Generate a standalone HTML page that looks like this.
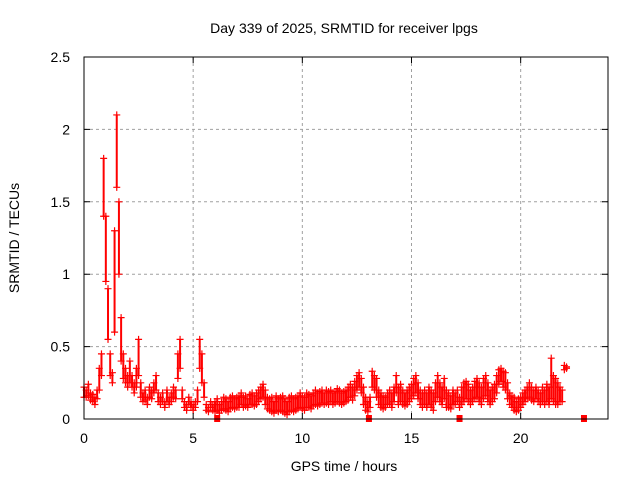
<!DOCTYPE html>
<html><head><meta charset="utf-8"><style>
body{margin:0;background:#fff}
svg{display:block;font-family:"Liberation Sans",sans-serif;font-size:14px}
</style></head><body>
<svg id="chart" width="640" height="480">
<text x="344" y="33" text-anchor="middle">Day 339 of 2025, SRMTID for receiver lpgs</text>
<text x="344" y="471" text-anchor="middle">GPS time / hours</text>
<text transform="translate(19,238) rotate(-90)" text-anchor="middle">SRMTID / TECUs</text>
<g id="grid"></g>
<g id="marks"></g>
<rect x="84" y="57" width="524" height="362" fill="none" stroke="#000"/>
<g id="ticks"></g>
</svg>
<script>
const xTicks=[0,5,10,15,20];
const yTicks=[0,0.5,1,1.5,2,2.5];
const yTickLabels=["0","0.5","1","1.5","2","2.5"];
const t0=0, step=0.1;
const hiVals=[0.22,0.20,0.24,0.18,0.17,0.15,0.20,0.35,0.45,1.80,1.40,0.90,0.45,0.32,1.30,2.10,1.50,0.70,0.45,0.35,0.30,0.40,0.30,0.25,0.35,0.55,0.25,0.18,0.20,0.15,0.22,0.20,0.25,0.30,0.18,0.15,0.18,0.12,0.20,0.15,0.18,0.22,0.20,0.45,0.55,0.20,0.12,0.10,0.15,0.12,0.10,0.12,0.20,0.55,0.45,0.25,0.10,0.08,0.12,0.10,
0.12,0.14,0.10,0.12,0.15,0.14,0.12,0.15,0.16,0.14,
0.15,0.16,0.18,0.15,0.16,0.14,0.17,0.18,0.16,0.18,
0.20,0.22,0.24,0.20,0.15,0.14,0.15,0.12,0.16,0.14,
0.15,0.16,0.14,0.12,0.15,0.16,0.14,0.15,0.16,0.18,
0.16,0.15,0.18,0.17,0.16,0.18,0.20,0.18,0.19,0.20,
0.18,0.20,0.19,0.20,0.18,0.19,0.21,0.20,0.18,0.19,
0.20,0.22,0.24,0.22,0.26,0.30,0.32,0.28,0.22,0.15,
0.12,0.15,0.33,0.30,0.28,0.20,0.18,0.16,0.15,0.18,
0.20,0.18,0.22,0.30,0.22,0.24,0.20,0.18,0.20,0.22,
0.24,0.28,0.30,0.25,0.20,0.18,0.20,0.18,0.22,0.20,
0.18,0.25,0.30,0.25,0.22,0.28,0.20,0.18,0.16,0.20,
0.18,0.20,0.15,0.22,0.25,0.26,0.24,0.20,0.22,0.26,
0.28,0.25,0.22,0.28,0.30,0.25,0.20,0.22,0.24,0.30,
0.34,0.35,0.33,0.32,0.25,0.18,0.16,0.15,0.12,0.14,
0.15,0.18,0.20,0.22,0.25,0.22,0.20,0.22,0.20,0.18,
0.22,0.20,0.24,0.22,0.42,0.30,0.28,0.25,0.22,0.20,
0.37,0.36];
const loVals=[0.15,0.15,0.16,0.13,0.12,0.10,0.14,0.20,0.30,1.40,0.95,0.55,0.30,0.25,0.60,1.60,1.00,0.40,0.28,0.25,0.22,0.25,0.22,0.18,0.22,0.30,0.15,0.12,0.13,0.10,0.15,0.14,0.18,0.20,0.12,0.10,0.12,0.08,0.12,0.10,0.12,0.15,0.14,0.28,0.35,0.14,0.08,0.06,0.10,0.08,0.06,0.08,0.12,0.35,0.25,0.15,0.06,0.05,0.08,0.06,
0.05,0.06,0.04,0.06,0.07,0.06,0.05,0.07,0.08,0.07,
0.08,0.08,0.10,0.08,0.09,0.08,0.10,0.10,0.09,0.10,
0.12,0.14,0.15,0.10,0.07,0.06,0.05,0.04,0.06,0.05,
0.06,0.05,0.04,0.03,0.05,0.06,0.05,0.06,0.07,0.08,
0.07,0.06,0.08,0.08,0.07,0.09,0.10,0.09,0.10,0.11,
0.10,0.11,0.10,0.12,0.10,0.11,0.12,0.11,0.10,0.11,
0.12,0.13,0.15,0.13,0.16,0.20,0.22,0.18,0.10,0.06,
0.05,0.08,0.22,0.20,0.15,0.10,0.08,0.07,0.08,0.10,
0.10,0.08,0.12,0.18,0.10,0.12,0.10,0.09,0.10,0.12,
0.14,0.16,0.18,0.14,0.10,0.08,0.10,0.08,0.10,0.08,
0.06,0.12,0.15,0.12,0.10,0.14,0.08,0.08,0.07,0.10,
0.10,0.12,0.08,0.10,0.12,0.14,0.12,0.10,0.12,0.14,
0.15,0.12,0.10,0.14,0.16,0.12,0.10,0.12,0.14,0.18,
0.24,0.26,0.22,0.20,0.14,0.10,0.08,0.06,0.05,0.06,
0.08,0.10,0.12,0.14,0.15,0.13,0.12,0.14,0.12,0.10,
0.12,0.10,0.12,0.10,0.14,0.12,0.10,0.10,0.12,0.12,
0.34,0.35];
const zeroTimes=[6.1,13.05,17.2,22.9];

const NS="http://www.w3.org/2000/svg";
const X=v=>84+v*(524/24);
const Y=v=>419-v*(362/2.5);
function mk(tag,attrs,parent){const e=document.createElementNS(NS,tag);for(const k in attrs)e.setAttribute(k,attrs[k]);parent.appendChild(e);return e;}
const grid=document.getElementById('grid'),ticks=document.getElementById('ticks'),marks=document.getElementById('marks');
xTicks.forEach(v=>{
  if(v>0){const g=mk('line',{x1:X(v),x2:X(v),y1:57,y2:419,stroke:'#a0a0a0','stroke-dasharray':'3,3'},grid);
  
  }
  const t=mk('path',{d:`M${X(v)},419v-6M${X(v)},57v6`,stroke:'#000'},ticks);
  
  
  const l=mk('text',{x:X(v),y:443,'text-anchor':'middle'},ticks);l.textContent=v;
  
  
});
yTicks.forEach((v,i)=>{
  if(v>0&&v<2.5){const g=mk('line',{x1:84,x2:608,y1:Y(v),y2:Y(v),stroke:'#a0a0a0','stroke-dasharray':'3,3'},grid);
  
  }
  const t=mk('path',{d:`M84,${Y(v)}h6M608,${Y(v)}h-6`,stroke:'#000'},ticks);
  
  
  const l=mk('text',{x:70,y:Y(v)+5,'text-anchor':'end'},ticks);l.textContent=yTickLabels[i];
  
  
});
function plus(x,y,col){const p=mk('path',{d:`M${x-3.5},${y}h7M${x},${y-3.5}v7`,stroke:col,'stroke-width':1.2},marks);
  
  }
hiVals.forEach((h,i)=>{
  const t=t0+i*step, lo=loVals[i], x=X(t);
  const r=mk('line',{x1:x,x2:x,y1:Y(h),y2:Y(lo),stroke:'#ff0000','stroke-width':2},marks);
  
  
  plus(x,Y(h),'#ff0000');
  plus(x,Y(lo),'#ff0000');
});
zeroTimes.forEach(t=>{
  const r=mk('rect',{x:X(t)-3,y:415,width:6,height:7,fill:'#ff0000'},marks);
  
  
});
</script>
</body></html>
